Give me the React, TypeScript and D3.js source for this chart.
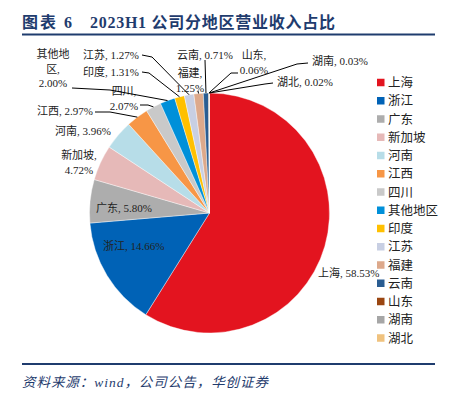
import React from "react";
import * as d3 from "d3";

const regions = ["上海", "浙江", "广东", "新加坡", "河南", "江西", "四川", "其他地区", "印度", "江苏", "福建", "云南", "山东", "湖南", "湖北"];
const shares = [58.53, 14.66, 5.80, 4.72, 3.96, 2.97, 2.07, 2.00, 1.31, 1.27, 1.25, 0.71, 0.06, 0.03, 0.02];
const colors = ["#E3141F", "#0062B6", "#ADADAD", "#E6B9B8", "#B7DDE8", "#F79646", "#C9C9C9", "#0090D9", "#FFC000", "#C8CFE3", "#DDA98B", "#2A5D92", "#9A4611", "#A6A6A6", "#F0C27E"];

// label layout (annotation placement only)
type Lay = { lines: string[]; x: number; y: number; anchor: string; leader?: [number, number][] };
const labelLayout: Record<string, Lay> = {
  上海: { lines: ["上海, 58.53%"], x: 318, y: 277, anchor: "start" },
  浙江: { lines: ["浙江, 14.66%"], x: 103, y: 250, anchor: "start" },
  广东: { lines: ["广东, 5.80%"], x: 96, y: 212, anchor: "start" },
  新加坡: { lines: ["新加坡,", "4.72%"], x: 79, y: 159, anchor: "middle" },
  河南: { lines: ["河南, 3.96%"], x: 55, y: 135, anchor: "start" },
  江西: { lines: ["江西, 2.97%"], x: 37, y: 115, anchor: "start", leader: [[95, 112], [110, 112]] },
  四川: { lines: ["四川,", "2.07%"], x: 124, y: 95, anchor: "middle", leader: [[140, 105], [148, 105]] },
  其他地区: { lines: ["其他地", "区,", "2.00%"], x: 53, y: 58, anchor: "middle", leader: [[72, 88], [110, 90]] },
  印度: { lines: ["印度, 1.31%"], x: 83, y: 76, anchor: "start", leader: [[142, 72], [149, 73]] },
  江苏: { lines: ["江苏, 1.27%"], x: 83, y: 59, anchor: "start", leader: [[142, 55], [152, 57]] },
  福建: { lines: ["福建,", "1.25%"], x: 190, y: 77, anchor: "middle", leader: [[198, 91]] },
  云南: { lines: ["云南, 0.71%"], x: 177, y: 59, anchor: "start", leader: [[205, 60]] },
  山东: { lines: ["山东,", "0.06%"], x: 254, y: 59, anchor: "middle", leader: [[238, 73], [231, 73]] },
  湖南: { lines: ["湖南, 0.03%"], x: 312, y: 65, anchor: "start", leader: [[308, 63], [297, 64]] },
  湖北: { lines: ["湖北, 0.02%"], x: 277, y: 86, anchor: "start", leader: [[273, 83], [265, 84]] },
};

const W = 455, H = 399;
const cx = 209.5, cy = 213, R = 120;
const NAVY = "#1F3C6E";
const FONT = "'Liberation Serif', 'Noto Sans CJK SC', serif";

export default function App() {
  const data = regions.map((r, i) => ({ name: r, value: shares[i], color: colors[i] }));
  const pie = d3.pie<any>().sort(null).value((d: any) => d.value).startAngle(0).endAngle(2 * Math.PI);
  const arcs = pie(data);
  const arc = d3.arc<any>().innerRadius(0).outerRadius(R);
  const line = d3.line();

  const legendY = d3.scaleLinear().domain([0, regions.length - 1]).range([82.5, 338]);

  return (
    <svg width={W} height={H} style={{ position: "absolute", left: 0, top: 0 }} fontFamily={FONT}>
      <rect width={W} height={H} fill="#fff" />
      <text x={22} y={28} fontSize={16} fontWeight="bold" fill={NAVY} textLength={50} lengthAdjust="spacing">图表 6</text>
      <text x={90} y={28} fontSize={16} fontWeight="bold" fill={NAVY} textLength={245} lengthAdjust="spacing">2023H1 公司分地区营业收入占比</text>
      <line x1={22} x2={435} y1={34.5} y2={34.5} stroke={NAVY} strokeWidth={2} />

      <g transform={`translate(${cx},${cy})`}>
        {arcs.map((a, i) => (
          <path key={i} d={arc(a) || ""} fill={a.data.color} stroke="#fff" strokeWidth={0.4} />
        ))}
      </g>

      {arcs.map((a, i) => {
        const lay = labelLayout[a.data.name];
        const mid = (a.startAngle + a.endAngle) / 2;
        const px = cx + R * Math.sin(mid);
        const py = cy - R * Math.cos(mid);
        return (
          <g key={"l" + i}>
            {lay.leader && (
              <path d={line([...lay.leader, [px, py]]) || ""} fill="none" stroke="#000" strokeWidth={1} />
            )}
            <text x={lay.x} y={lay.y} fontSize={11} textAnchor={lay.anchor} fill="#222">
              {lay.lines.map((t, j) => (
                <tspan key={j} x={lay.x} dy={j === 0 ? 0 : 14.5}>{t}</tspan>
              ))}
            </text>
          </g>
        );
      })}

      {regions.map((r, i) => (
        <g key={"lg" + i}>
          <rect x={377} y={legendY(i) - 3.75} width={7.5} height={7.5} fill={colors[i]} />
          <text x={388} y={legendY(i) + 4.5} fontSize={12.5} fill="#222">{r}</text>
        </g>
      ))}

      <line x1={22} x2={435} y1={364} y2={364} stroke={NAVY} strokeWidth={2} />
      <text x={22} y={387} fontSize={13.5} fontStyle="italic" fill={NAVY} textLength={246} lengthAdjust="spacing">资料来源：wind，公司公告，华创证券</text>
    </svg>
  );
}
